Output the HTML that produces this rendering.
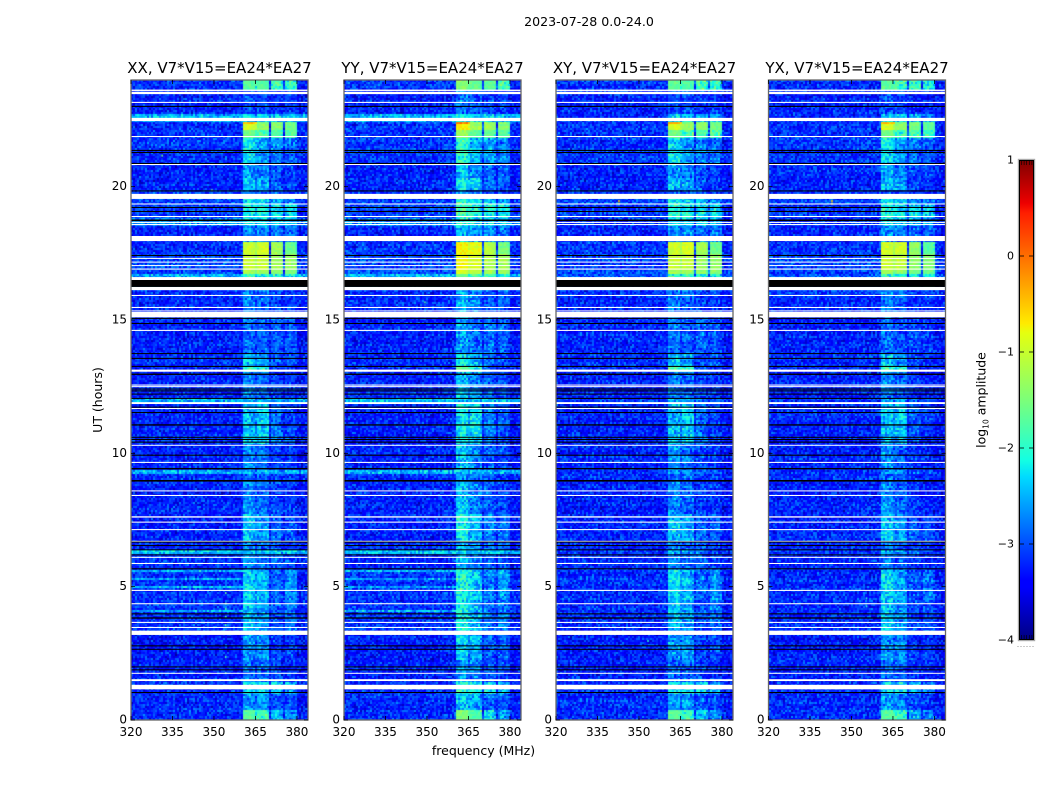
<!DOCTYPE html>
<html lang="en">
<head>
<meta charset="utf-8">
<title>2023-07-28 dynamic spectra</title>
<style>
html,body{margin:0;padding:0;background:#fff;}
#stage{position:relative;width:1050px;height:800px;overflow:hidden;background:#fff;}
canvas{position:absolute;top:80px;display:block;}
svg{position:absolute;left:0;top:0;}
text{font-family:"DejaVu Sans","Liberation Sans",sans-serif;fill:#000;}
</style>
</head>
<body>
<div id="stage">
<svg id="fig" width="1050" height="800" viewBox="0 0 1050 800">
  <defs>
    <linearGradient id="jetGrad" x1="0" y1="1" x2="0" y2="0">
      <stop offset="0" stop-color="rgb(0,0,128)"/>
      <stop offset="0.11" stop-color="rgb(0,0,255)"/>
      <stop offset="0.125" stop-color="rgb(0,0,255)"/>
      <stop offset="0.34" stop-color="rgb(0,219,255)"/>
      <stop offset="0.375" stop-color="rgb(20,255,226)"/>
      <stop offset="0.5" stop-color="rgb(124,255,121)"/>
      <stop offset="0.64" stop-color="rgb(229,255,15)"/>
      <stop offset="0.66" stop-color="rgb(255,234,0)"/>
      <stop offset="0.89" stop-color="rgb(255,30,0)"/>
      <stop offset="0.91" stop-color="rgb(237,0,0)"/>
      <stop offset="1" stop-color="rgb(128,0,0)"/>
    </linearGradient>
  </defs>
  <text x="589" y="26" font-size="12.6" text-anchor="middle">2023-07-28 0.0-24.0</text>
  <text x="483.5" y="755" font-size="12.5" text-anchor="middle">frequency (MHz)</text>
  <text transform="translate(102,400) rotate(-90)" font-size="12.5" text-anchor="middle">UT (hours)</text>
  <rect x="1019" y="160" width="15" height="480" fill="url(#jetGrad)"/>
  <text transform="translate(985.5,400) rotate(-90)" font-size="12.5" text-anchor="middle">log<tspan font-size="7.5" dy="3">10</tspan><tspan dy="-3"> amplitude</tspan></text>
</svg>
</div>
<script>
/* ---------- chart data ---------- */
const panelTitles = ["XX, V7*V15=EA24*EA27","YY, V7*V15=EA24*EA27","XY, V7*V15=EA24*EA27","YX, V7*V15=EA24*EA27"];
const panelIsParallel = [true,true,false,false];
const xTickValues = [320,335,350,365,380];
const yTickValues = [0,5,10,15,20];
const cbarTickValues = [1,0,-1,-2,-3,-4];
/* frequency bands in MHz: sub-band start, sub-band end */
const subBands = [[360.5,365.2],[365.9,370.2],[370.6,374.9],[375.7,380]];
/* log10 amplitude offset of each sub-band per panel */
const panelBandOffsets = [[0,0,0,0],[0.25,0.1,0.1,0.1],[0.02,0,0,0],[0,-0.05,-0.1,-0.1]];
/* time segments: top hour, parallel background, cross background, sub-band 1..4 */
const timeSegments = [
[24.00,-3.15,-3.15,-1.7,-1.75,-1.8,-2.0],
[23.62,-3.25,-3.25,-3.0,-3.05,-3.15,-3.15],
[22.72,-2.5,-3.2,-2.35,-2.35,-2.4,-2.5],
[22.46,-3.15,-3.15,-0.4,-1.4,-1.4,-1.5],
[22.33,-3.15,-3.15,-0.95,-1.35,-1.4,-1.55],
[22.10,-3.15,-3.15,-1.55,-1.8,-1.75,-1.8],
[21.86,-3.15,-3.15,-2.25,-2.6,-2.7,-2.85],
[20.85,-3.25,-3.25,-2.6,-2.8,-2.95,-3.05],
[20.36,-3.25,-3.25,-2.45,-2.5,-2.95,-3.05],
[19.86,-3.15,-3.15,-2.95,-2.95,-3.05,-3.15],
[19.54,-3.05,-3.05,-2.2,-2.3,-2.5,-2.7],
[19.33,-3.1,-3.15,-2.1,-2.2,-2.2,-2.3],
[18.86,-2.7,-3.15,-2.3,-2.3,-2.4,-2.5],
[18.56,-3.25,-3.25,-2.65,-2.75,-2.75,-2.85],
[17.96,-3.15,-3.15,-1.0,-0.95,-1.25,-1.6],
[17.44,-3.05,-3.05,-1.05,-1.05,-1.3,-1.35],
[16.89,-3.05,-3.05,-1.25,-1.3,-1.4,-1.45],
[16.70,-2.5,-2.95,-1.9,-2.0,-2.0,-2.1],
[16.12,-3.2,-3.2,-2.75,-2.85,-3.05,-3.05],
[15.10,-3.25,-3.25,-2.85,-2.95,-2.9,-3.0],
[13.76,-3.2,-3.2,-2.4,-2.65,-2.95,-3.05],
[13.28,-3.2,-3.2,-1.85,-2.0,-3.05,-3.15],
[13.06,-3.25,-3.25,-2.75,-2.85,-3.05,-3.15],
[12.08,-2.45,-3.15,-2.6,-2.6,-2.75,-2.85],
[11.85,-3.25,-3.25,-2.45,-2.35,-2.85,-3.05],
[10.32,-3.25,-3.25,-2.7,-2.85,-3.05,-3.15],
[9.38,-2.5,-3.2,-2.6,-2.6,-2.75,-2.95],
[9.22,-3.2,-3.2,-2.85,-2.95,-3.05,-3.15],
[8.94,-3.25,-3.25,-2.7,-2.85,-3.05,-3.15],
[7.70,-3.25,-3.25,-2.4,-2.6,-2.85,-2.95],
[6.69,-3.2,-3.2,-2.75,-2.85,-2.95,-3.05],
[6.38,-2.4,-3.15,-2.6,-2.6,-2.75,-2.95],
[6.21,-3.2,-3.2,-2.75,-2.85,-2.95,-3.05],
[5.65,-3.15,-3.2,-2.3,-2.5,-2.85,-2.7],
[4.50,-3.15,-3.2,-2.4,-2.6,-2.95,-2.85],
[3.19,-3.3,-3.3,-2.65,-2.65,-3.05,-3.05],
[2.25,-3.25,-3.25,-2.85,-2.85,-3.05,-3.15],
[1.46,-3.2,-3.2,-2.3,-2.2,-2.35,-2.6],
[1.01,-3.2,-3.2,-2.65,-2.65,-2.95,-3.05],
[0.38,-3.2,-3.2,-1.7,-1.9,-2.4,-2.7]];
/* fully flagged (white) time ranges: upper hour, lower hour */
const whiteFlags = [[23.64,23.59],[23.56,23.47],[23.18,23.14],[22.58,22.46],[21.90,21.86],[20.85,20.81],[19.73,19.54],[19.37,19.33],[18.90,18.86],[18.68,18.64],[18.60,18.56],[18.15,17.96],[17.33,17.29],[17.19,17.16],[17.06,17.03],[16.93,16.89],[16.61,16.50],[16.24,16.12],[15.94,15.90],[15.49,15.45],[15.36,15.32],[15.30,15.10],[14.63,14.59],[13.14,13.06],[12.58,12.54],[12.52,12.49],[11.92,11.85],[11.70,11.66],[10.32,10.29],[9.68,9.64],[8.61,8.58],[8.44,8.40],[7.64,7.59],[7.44,7.40],[7.16,7.12],[6.72,6.69],[6.12,6.08],[5.89,5.85],[4.88,4.84],[4.38,4.34],[3.68,3.64],[3.49,3.45],[3.35,3.19],[1.77,1.74],[1.53,1.46],[1.32,1.15]];
/* zero-amplitude (black) time ranges: upper hour, lower hour */
const blackFlags = [[23.03,22.99],[21.38,21.34],[21.30,21.26],[20.89,20.85],[19.86,19.82],[19.24,19.20],[19.09,19.05],[18.77,18.71],[17.44,17.40],[16.50,16.24],[15.08,15.04],[14.89,14.85],[13.76,13.73],[13.58,13.54],[13.28,13.24],[12.99,12.94],[12.43,12.40],[12.36,12.33],[12.24,12.22],[12.08,12.04],[11.75,11.72],[11.55,11.51],[11.09,11.04],[10.62,10.59],[10.54,10.50],[10.44,10.40],[9.95,9.91],[9.45,9.40],[9.00,8.94],[6.69,6.66],[6.56,6.53],[6.40,6.38],[6.21,6.18],[5.69,5.65],[4.00,3.96],[3.85,3.80],[2.80,2.76],[2.67,2.64],[2.01,1.98],[1.90,1.88],[1.05,1.01]];
/* faint RFI time lines in the parallel hands: hour, log10 amplitude */
const rfiLines = [[5.58,-2.5],[5.29,-2.6],[4.99,-2.5],[4.65,-2.55],[4.10,-2.5],[3.75,-2.6]];
/* isolated hot samples: panel, MHz, hour, log10 amplitude */
const hotSamples = [[0,354,4.8,-1.7],[0,354,4.4,-1.7],[0,354,4.2,-1.8],[0,354,3.9,-1.8],[0,354,3.6,-1.8],[0,354,2.4,-1.8],[0,354,1.8,-1.8],[0,349,19.9,-1.5],[0,349,19.7,-1.5],[0,331,21.2,-1.6],[2,342.5,19.5,-0.6],[2,342.5,19.4,-0.7],[3,342.5,19.5,-0.6],[3,342.5,19.4,-0.7],[2,353,3.0,-2.0],[3,355,4.6,-2.0],[3,355,4.3,-2.0],[1,349,15.7,-1.8]];
/* amplitude scatter table (log10 units) read by eye from the speckle */
const speckleTable = [0.12,-0.28,0.31,-0.05,0.22,-0.34,0.08,0.27,-0.17,-0.31,0.16,0.38,-0.09,-0.24,0.04,0.29,-0.36,0.19,-0.13,0.33,-0.21,0.07,-0.29,0.25,0.11,-0.38,0.35,-0.02,-0.19,0.14,0.3,-0.26,0.02,-0.33,0.21,0.09,-0.11,0.36,-0.23,0.17,-0.07,-0.35,0.28,0.05,-0.15,0.24,-0.3,0.13,0.32,-0.27,-0.04,0.2,-0.37,0.1,0.34,-0.12,-0.22,0.26,-0.08,0.18,-0.32];

/* ---------- layout ---------- */
const NS = "http://www.w3.org/2000/svg";
const fig = document.getElementById("fig");
const stage = document.getElementById("stage");
const axisLefts = [131,344,556,768.5];
const axisWidth = 177, axisTop = 80, axisHeight = 640;
const xMin = 320, xMax = 384, yMax = 24;
function xScale(mhz, p){ return axisLefts[p] + (mhz - xMin) * axisWidth / (xMax - xMin); }
function yScale(h){ return axisTop + axisHeight - h * axisHeight / yMax; }
function cbarScale(v){ return 160 + (1 - v) * 96; }
function make(tag, attrs, parent){
  const e = document.createElementNS(NS, tag);
  for (const k in attrs) e.setAttribute(k, attrs[k]);
  (parent || fig).appendChild(e);
  return e;
}
function lerp(pts, t){
  for (let i = 1; i < pts.length; i++) {
    if (t <= pts[i][0]) {
      const a = pts[i-1], b = pts[i];
      return a[1] + (b[1]-a[1]) * (t-a[0]) / (b[0]-a[0]);
    }
  }
  return pts[pts.length-1][1];
}
const jetR = [[0,0],[0.35,0],[0.66,1],[0.89,1],[1,0.5]];
const jetG = [[0,0],[0.125,0],[0.375,1],[0.64,1],[0.91,0],[1,0]];
const jetB = [[0,0.5],[0.11,1],[0.34,1],[0.65,0],[1,0]];
function jetColor(v){
  const t = Math.max(0, Math.min(1, (v + 4) / 5));
  return "rgb(" + Math.round(255*lerp(jetR,t)) + "," + Math.round(255*lerp(jetG,t)) + "," + Math.round(255*lerp(jetB,t)) + ")";
}
function segmentAt(h){
  let seg = timeSegments[0];
  for (const s of timeSegments) { if (h <= s[0]) seg = s; else break; }
  return seg;
}
function levelAt(p, mhz, h){
  const seg = segmentAt(h);
  let v = panelIsParallel[p] ? seg[1] : seg[2];
  if (mhz > 380) v -= 0.08;
  for (let b = 0; b < subBands.length; b++) {
    if (mhz >= subBands[b][0] && mhz < subBands[b][1]) {
      const edge = Math.min(1, (subBands[b][1] - mhz) / 0.8);
      v = Math.max(v, seg[3+b] + panelBandOffsets[p][b]) - (1 - edge) * 0.25;
    }
  }
  if (panelIsParallel[p] && mhz < 361) {
    for (const line of rfiLines) { if (Math.abs(line[0] - h) < 0.03) v = Math.max(v, line[1]); }
  }
  return v;
}

/* ---------- draw panels ---------- */
panelTitles.forEach(function(title, p){
  const left = axisLefts[p];
  const cv = document.createElement("canvas");
  
  
  cv.width = axisWidth;
  cv.height = axisHeight;
  cv.style.left = left + "px";
  stage.insertBefore(cv, fig);
  const ctx = cv.getContext("2d");
  const cellW = 2, cellH = 2;
  const n = speckleTable.length;
  for (let r = 0; r * cellH < axisHeight; r++) {
    const h = yMax * (1 - (r * cellH + 1) / axisHeight);
    const rowShift = speckleTable[(r * 23 + p * 7) % n] * 0.18;
    for (let c = 0; c * cellW < axisWidth; c++) {
      const mhz = xMin + (c * cellW + 1) * (xMax - xMin) / axisWidth;
      const base = levelAt(p, mhz, h);
      const scatter = (speckleTable[(c*c*c + r*17 + p*5) % n] + speckleTable[(r*r*r + c*29 + p*13) % n]) * 0.75;
      const amp = base > -1.8 ? 0.35 : 1;
      ctx.fillStyle = jetColor(base + (scatter + rowShift) * amp);
      ctx.fillRect(c * cellW, r * cellH, cellW, cellH);
    }
  }
  hotSamples.forEach(function(s){
    if (s[0] !== p) return;
    ctx.fillStyle = jetColor(s[3]);
    ctx.fillRect(xScale(s[1], p) - left, yScale(s[2]) - axisTop, 1.5, 2);
  });

  const g = make("g", {});
  
  

  whiteFlags.forEach(function(f){
    const y0 = yScale(f[0]), y1 = yScale(f[1]);
    const rect = make("rect", {x:left, y:y0, width:axisWidth, height:Math.max(1, y1-y0), fill:"#fff"}, g);
    
    
  });
  blackFlags.forEach(function(f){
    const y0 = yScale(f[0]), y1 = yScale(f[1]);
    const rect = make("rect", {x:left, y:y0, width:axisWidth, height:Math.max(1, y1-y0), fill:"#000"}, g);
    
    
  });

  const frame = make("rect", {x:left, y:axisTop, width:axisWidth, height:axisHeight, fill:"none", stroke:"#666", "stroke-width":1.3}, g);
  
  

  const ttl = make("text", {x:left + axisWidth/2, y:73, "font-size":15, "text-anchor":"middle"}, g);
  ttl.textContent = title;
  
  

  xTickValues.forEach(function(v){
    const x = xScale(v, p);
    const t1 = make("line", {x1:x, x2:x, y1:axisTop+axisHeight, y2:axisTop+axisHeight-4, stroke:"#000", "stroke-width":0.8}, g);
    
    
    const t2 = make("line", {x1:x, x2:x, y1:axisTop, y2:axisTop+4, stroke:"#000", "stroke-width":0.8}, g);
    
    
    const lab = make("text", {x:x, y:736, "font-size":12, "text-anchor":"middle"}, g);
    lab.textContent = v;
    
    
  });
  yTickValues.forEach(function(v){
    const y = yScale(v);
    const t1 = make("line", {x1:left, x2:left+4, y1:y, y2:y, stroke:"#000", "stroke-width":0.8}, g);
    
    
    const t2 = make("line", {x1:left+axisWidth, x2:left+axisWidth-4, y1:y, y2:y, stroke:"#000", "stroke-width":0.8}, g);
    
    
    const lab = make("text", {x:left-4, y:y+3.5, "font-size":12, "text-anchor":"end"}, g);
    lab.textContent = v;
    
    
  });
});

/* ---------- colorbar ---------- */
const cb = make("g", {});


const cbOuter = make("rect", {x:1018.5, y:159.5, width:16, height:481, fill:"none", stroke:"#aaa", "stroke-width":1.4}, cb);


const cbFrame = make("rect", {x:1019.5, y:160.5, width:14, height:479, fill:"none", stroke:"#000", "stroke-width":1}, cb);


cbarTickValues.forEach(function(v){
  const y = cbarScale(v);
  const lab = make("text", {x:1014, y:y+3.5, "font-size":11, "text-anchor":"end"}, cb);
  lab.textContent = String(v).replace("-", "\u2212");
  
  
  if (v !== 1 && v !== -4) {
    const a = make("line", {x1:1019, x2:1024, y1:y, y2:y, stroke:"#000", "stroke-width":0.8}, cb);
    
    
    const b = make("line", {x1:1029, x2:1034, y1:y, y2:y, stroke:"#000", "stroke-width":0.8}, cb);
    
    
  }
});
for (let i = 0; i < 5; i++) {
  const x = 1021.5 + i * 2.6;
  const a = make("line", {x1:x, x2:x, y1:160, y2:165, stroke:"#000", "stroke-width":0.6}, cb);
  
  
  const b = make("line", {x1:x, x2:x, y1:640, y2:635, stroke:"#000", "stroke-width":0.6}, cb);
  
  
}
for (let i = 0; i < 6; i++) {
  const d = make("rect", {x:1017.5 + i * 3, y:646, width:1, height:1, fill:"#999"}, cb);
  
  
}
</script>
</body>
</html>
